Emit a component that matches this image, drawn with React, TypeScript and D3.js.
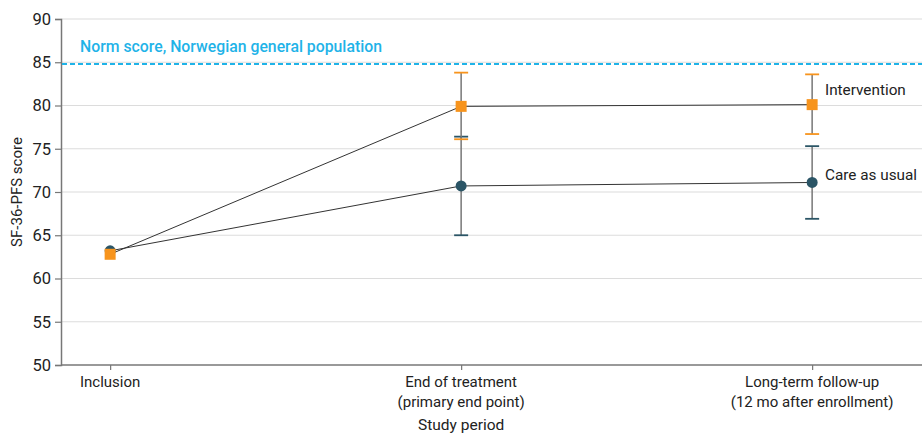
import React, { useEffect, useRef } from 'react';
import * as d3 from 'd3';

const periods = ['Inclusion', 'End of treatment', 'Long-term follow-up'];
const periodSub = ['', '(primary end point)', '(12 mo after enrollment)'];

const careMean = [63.2, 70.7, 71.1];
const careLow = [null, 65.0, 66.9];
const careHigh = [null, 76.4, 75.3];

const intMean = [62.8, 79.9, 80.1];
const intLow = [null, 76.1, 76.7];
const intHigh = [null, 83.8, 83.6];

const normScore = 84.8;
const yTicks = [50, 55, 60, 65, 70, 75, 80, 85, 90];

const ORANGE = '#f7941d';
const TEAL = '#2b5566';
const BLUE = '#1fb3e8';
const FONT = 'Roboto, "Open Sans", sans-serif';

const App = () => {
  const ref = useRef<SVGSVGElement>(null);

  useEffect(() => {
    const svg = d3.select(ref.current);
    svg.selectAll('*').remove();
    const width = 922;

    const x = d3.scaleLinear().domain([-0.14, 2.313]).range([61, 922]);
    const y = d3.scaleLinear().domain([50, 90]).range([365, 19]);

    // gridlines
    svg.append('g')
      .selectAll('line')
      .data(yTicks.filter((d) => d > 50))
      .enter()
      .append('line')
      .attr('x1', 61)
      .attr('x2', width)
      .attr('y1', (d) => y(d))
      .attr('y2', (d) => y(d))
      .attr('stroke', '#dcdcdc')
      .attr('stroke-width', 1.2);

    // y axis
    const yAxis = svg.append('g')
      .attr('transform', 'translate(61,0)')
      .call(d3.axisLeft(y).tickValues(yTicks).tickSize(6).tickPadding(4));
    yAxis.select('.domain').attr('stroke', '#777').attr('stroke-width', 1.5);
    yAxis.selectAll('.tick line').attr('stroke', '#777').attr('stroke-width', 1.2);
    yAxis.selectAll('text')
      .attr('font-family', FONT)
      .attr('font-size', 16.5)
      .attr('fill', '#222');

    // x axis
    const xAxis = svg.append('g')
      .attr('transform', 'translate(0,365)')
      .call(
        d3.axisBottom(x)
          .tickValues([0, 1, 2])
          .tickSize(5)
          .tickFormat(() => '')
      );
    xAxis.select('.domain').attr('stroke', '#777').attr('stroke-width', 1.5).attr('d', `M61,0H${width}`);
    xAxis.selectAll('.tick line').attr('stroke', '#777').attr('stroke-width', 1.2);

    const xl = svg.append('g').attr('font-family', FONT).attr('font-size', 15).attr('fill', '#222').attr('text-anchor', 'middle');
    periods.forEach((p, i) => {
      xl.append('text').attr('x', x(i)).attr('y', 387).text(p);
      if (periodSub[i]) xl.append('text').attr('x', x(i)).attr('y', 407).text(periodSub[i]);
    });
    xl.append('text').attr('x', x(1)).attr('y', 430).attr('font-size', 15.5).text('Study period');

    svg.append('text')
      .attr('transform', `translate(22,${y(70)}) rotate(-90)`)
      .attr('text-anchor', 'middle')
      .attr('font-family', FONT)
      .attr('font-size', 15)
      .attr('fill', '#222')
      .text('SF-36-PFS score');

    // norm line
    svg.append('line')
      .attr('x1', 62)
      .attr('x2', width)
      .attr('y1', y(normScore))
      .attr('y2', y(normScore))
      .attr('stroke', BLUE)
      .attr('stroke-width', 1.8)
      .attr('stroke-dasharray', '5,3');
    svg.append('text')
      .attr('x', 80)
      .attr('y', 52)
      .attr('font-family', FONT)
      .attr('font-size', 15.8)
      .attr('font-weight', 500)
      .attr('fill', BLUE)
      .text('Norm score, Norwegian general population');

    const line = d3.line<number>().x((d, i) => x(i)).y((d) => y(d));

    const series = [
      { mean: careMean, low: careLow, high: careHigh, color: TEAL },
      { mean: intMean, low: intLow, high: intHigh, color: ORANGE },
    ];

    // error bars
    series.forEach((s) => {
      s.mean.forEach((m, i) => {
        const lo = s.low[i];
        const hi = s.high[i];
        if (lo == null || hi == null) return;
        svg.append('line')
          .attr('x1', x(i)).attr('x2', x(i))
          .attr('y1', y(lo)).attr('y2', y(hi))
          .attr('stroke', '#777').attr('stroke-width', 1.5);
        [lo, hi].forEach((v) => {
          svg.append('line')
            .attr('x1', x(i) - 7).attr('x2', x(i) + 7)
            .attr('y1', y(v)).attr('y2', y(v))
            .attr('stroke', s.color).attr('stroke-width', 1.8);
        });
      });
    });

    // lines
    series.forEach((s) => {
      svg.append('path')
        .attr('d', line(s.mean))
        .attr('fill', 'none')
        .attr('stroke', '#333')
        .attr('stroke-width', 1);
    });

    // markers
    careMean.forEach((m, i) => {
      svg.append('circle').attr('cx', x(i)).attr('cy', y(m)).attr('r', 5.5).attr('fill', TEAL);
    });
    intMean.forEach((m, i) => {
      svg.append('rect')
        .attr('x', x(i) - 5.5).attr('y', y(m) - 5.5)
        .attr('width', 11).attr('height', 11)
        .attr('fill', ORANGE);
    });

    // series labels
    const lab = svg.append('g').attr('font-family', FONT).attr('font-size', 15.3).attr('fill', '#222');
    lab.append('text').attr('x', 825).attr('y', y(intMean[2]) - 10).text('Intervention');
    lab.append('text').attr('x', 825).attr('y', y(careMean[2]) - 2).text('Care as usual');
  }, []);

  return (
    <svg ref={ref} width={922} height={434} style={{ position: 'absolute', left: 0, top: 0 }} />
  );
};

export default App;
